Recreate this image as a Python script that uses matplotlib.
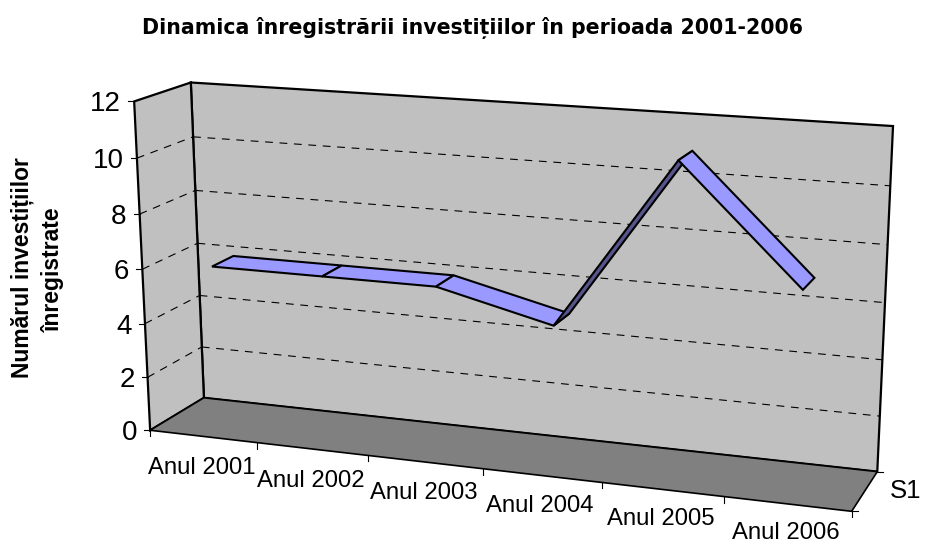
import numpy as np
import matplotlib
matplotlib.use("Agg")
import matplotlib.pyplot as plt

categories = ["Anul 2001", "Anul 2002", "Anul 2003", "Anul 2004", "Anul 2005", "Anul 2006"]
values = [6, 6, 6, 5, 11, 7]
y_ticks = [0, 2, 4, 6, 8, 10, 12]
series_name = "S1"
title = "Dinamica înregistrării investițiilor în perioada 2001-2006"
y_title = ["Numărul investițiilor", "înregistrate"]

plt.rcParams['font.family'] = ['Liberation Sans', 'DejaVu Sans']

# fit a camera: (category, value, depth) -> pixel
world = np.array([[0, 0, 0], [0, 12, 0], [0, 0, 1], [0, 12, 1], [6, 0, 1], [6, 12, 1], [6, 0, 0]], float)
pixel = np.array([[150, 430], [134, 102], [204, 398], [191, 82], [877, 472], [893, 126], [852, 511]], float)

rows = []
for (a, b, c), (u, v) in zip(world, pixel):
    rows.append([a, b, c, 1, 0, 0, 0, 0, -u*a, -u*b, -u*c, -u])
    rows.append([0, 0, 0, 0, a, b, c, 1, -v*a, -v*b, -v*c, -v])
cam = np.linalg.svd(np.array(rows))[2][-1].reshape(3, 4)


def proj(x, y, d):
    p = cam @ np.array([x, y, d, 1.0])
    return p[0]/p[2], p[1]/p[2]


def quad(ax, pts, color, lw=1.5, z=2):
    xs, ys = zip(*[proj(*p) for p in pts])
    ax.fill(xs, ys, facecolor=color, edgecolor="black", linewidth=lw, joinstyle="miter", zorder=z)


def seg(ax, a, b, **kw):
    xa, ya = proj(*a)
    xb, yb = proj(*b)
    ax.plot([xa, xb], [ya, yb], color="black", solid_capstyle="butt", **kw)


fig = plt.figure(figsize=(9.27, 5.44), dpi=100)
ax = fig.add_axes([0, 0, 1, 1])
ax.set_xlim(0, 927)
ax.set_ylim(544, 0)
ax.axis("off")

n = len(categories)
top = y_ticks[-1]

# walls and floor
quad(ax, [(0, 0, 1), (n, 0, 1), (n, top, 1), (0, top, 1)], "#c0c0c0", lw=1.6)
quad(ax, [(0, 0, 0), (0, 0, 1), (0, top, 1), (0, top, 0)], "#c0c0c0", lw=1.6)
quad(ax, [(0, 0, 0), (n, 0, 0), (n, 0, 1), (0, 0, 1)], "#808080", lw=1.2)

# gridlines
for t in y_ticks[1:-1]:
    for a, b in [((0, t, 0), (0, t, 1)), ((0, t, 1), (n, t, 1))]:
        seg(ax, a, b, linewidth=0.8, linestyle=(0, (7, 6)), zorder=3)

# ticks
for t in y_ticks:
    x0, y0 = proj(0, t, 0)
    ax.plot([x0-6, x0], [y0, y0], color="black", linewidth=0.8, zorder=3)
    ax.text(x0-13, y0, str(t), fontsize=20, ha="right", va="center_baseline")
for i in range(n+1):
    x0, y0 = proj(i, 0, 0)
    ax.plot([x0, x0], [y0, y0+6], color="black", linewidth=0.8, zorder=3)
for d in [0, 1]:
    x0, y0 = proj(n, 0, d)
    ax.plot([x0, x0+6], [y0, y0], color="black", linewidth=0.8, zorder=3)

for i, c in enumerate(categories):
    x0, y0 = proj(i+0.5, 0, 0)
    ax.text(x0-2, y0+32-0.5*i, c, fontsize=17.2, ha="center", va="center")

ax.text(906, 491, series_name, fontsize=18.5, ha="center", va="center")

# ribbon
d0, d1 = 0.28, 0.68
for i in range(n-1):
    a, b = values[i], values[i+1]
    # rising stretch shows the dark underside
    xa, ya = proj(i+0.5, a, d0)
    xb, yb = proj(i+1.5, b, d0)
    xa2, ya2 = proj(i+0.5, a, d1)
    side = (xb-xa)*(ya2-ya) - (yb-ya)*(xa2-xa)
    color = "#9999ff" if side < 0 else "#56568c"
    quad(ax, [(i+0.5, a, d0), (i+1.5, b, d0), (i+1.5, b, d1), (i+0.5, a, d1)], color, z=4+0.01*i)

ax.text(472.5, 28, title, fontsize=14.8, fontweight="bold", family="DejaVu Sans", ha="center", va="center")
ax.text(22, 268, y_title[0], fontsize=16.5, fontweight="bold", rotation=90, ha="center", va="center")
ax.text(53, 270, y_title[1], fontsize=16.5, fontweight="bold", rotation=90, ha="center", va="center")

fig.savefig("out.png", dpi=100)
